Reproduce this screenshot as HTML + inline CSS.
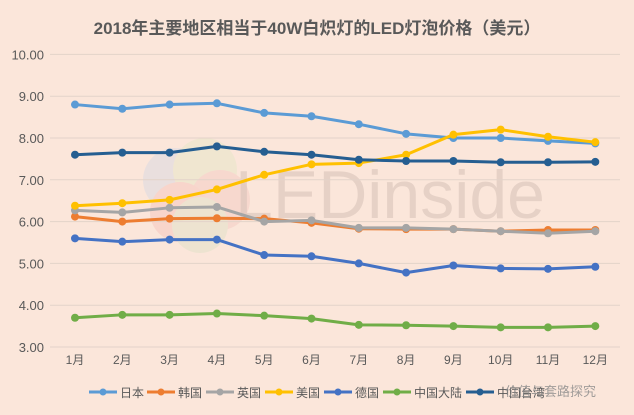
<!DOCTYPE html>
<html><head><meta charset="utf-8"><style>
body{margin:0;background:#fbe6da;}
svg{display:block;font-family:"Liberation Sans","Noto Sans CJK SC",sans-serif;}
</style></head><body>
<svg id="chart" width="634" height="415">
<rect width="634" height="415" fill="#fbe6da"/>
<text x="317" y="34" text-anchor="middle" font-size="17" font-weight="bold" fill="#595959">2018年主要地区相当于40W白炽灯的LED灯泡价格（美元）</text>
<g opacity="0.35">
<circle cx="175" cy="180" r="32" fill="#c9d3e8"/><circle cx="205" cy="170" r="32" fill="#dde6c0"/><circle cx="220" cy="200" r="30" fill="#f2c0b8"/><circle cx="180" cy="212" r="30" fill="#f4b6b0"/><circle cx="200" cy="225" r="28" fill="#d6e0c0"/>
</g>
<text x="390" y="218" text-anchor="middle" font-size="68" fill="#d9c4ba" opacity="0.6">LEDinside</text>
<g id="grid"></g><g id="series"></g><g id="legend"></g>
<text x="505" y="396" font-size="13" fill="#8a8a8a" opacity="0.8">价值与套路探究</text>
</svg>
<script>
const months=["1月","2月","3月","4月","5月","6月","7月","8月","9月","10月","11月","12月"];
const yTicks=[3,4,5,6,7,8,9,10];
const names=["日本","韩国","英国","美国","德国","中国大陆","中国台湾"];
const colors=["#5b9bd5","#ed7d31","#a5a5a5","#ffc000","#4472c4","#70ad47","#255e91"];
const japan=[8.8,8.7,8.8,8.83,8.6,8.52,8.33,8.1,8.0,8.0,7.93,7.87];
const korea=[6.12,6.0,6.07,6.08,6.07,5.97,5.83,5.82,5.82,5.77,5.8,5.8];
const uk=[6.27,6.22,6.33,6.35,6.0,6.03,5.85,5.85,5.82,5.77,5.72,5.77];
const usa=[6.38,6.44,6.52,6.77,7.12,7.37,7.4,7.6,8.08,8.2,8.03,7.9];
const germany=[5.6,5.52,5.57,5.57,5.2,5.17,5.0,4.78,4.95,4.88,4.87,4.92];
const mainland=[3.7,3.77,3.77,3.8,3.75,3.68,3.53,3.52,3.5,3.47,3.47,3.5];
const taiwan=[7.6,7.65,7.65,7.8,7.67,7.6,7.48,7.45,7.45,7.42,7.42,7.43];
const seriesData=[japan,korea,uk,usa,germany,mainland,taiwan];
const NS="http://www.w3.org/2000/svg";
const x=i=>75+i*47.3;
const y=v=>347-(v-3)*41.8;
function mk(tag,attrs,parent,text){const e=document.createElementNS(NS,tag);for(const k in attrs)e.setAttribute(k,attrs[k]);if(text!==undefined)e.textContent=text;parent.appendChild(e);return e;}
const grid=document.getElementById('grid');
yTicks.forEach(t=>{
 const l=mk('line',{x1:50,x2:620,y1:y(t),y2:y(t),stroke:'#e3d3c9','stroke-width':1},grid);
 
 
 const tx=mk('text',{x:44,y:y(t)+5,'text-anchor':'end','font-size':13,fill:'#595959'},grid,t.toFixed(2));
 
 
});
months.forEach((m,i)=>{
 const tx=mk('text',{x:x(i),y:364,'text-anchor':'middle','font-size':12,fill:'#595959'},grid,m);
 
 
});
const sg=document.getElementById('series');
seriesData.forEach((d,s)=>{
 const g=mk('g',{},sg);
 
 
 const p=mk('polyline',{points:d.map((v,i)=>x(i)+','+y(v)).join(' '),fill:'none',stroke:colors[s],'stroke-width':3,'stroke-linejoin':'round'},g);
 
 
 d.forEach((v,i)=>{
  const c=mk('circle',{cx:x(i),cy:y(v),r:4,fill:colors[s]},g);
  
  
 });
});
const lg=document.getElementById('legend');
const starts=[89,147,206,265,324,383,466];
names.forEach((n,s)=>{
 const g=mk('g',{},lg);
 
 
 const bx=starts[s];
 mk('line',{x1:bx,x2:bx+28,y1:392,y2:392,stroke:colors[s],'stroke-width':3},g);
 mk('circle',{cx:bx+14,cy:392,r:3.5,fill:colors[s]},g);
 mk('text',{x:bx+31,y:397,'font-size':12,fill:'#595959'},g,n);
});
</script>
</body></html>
